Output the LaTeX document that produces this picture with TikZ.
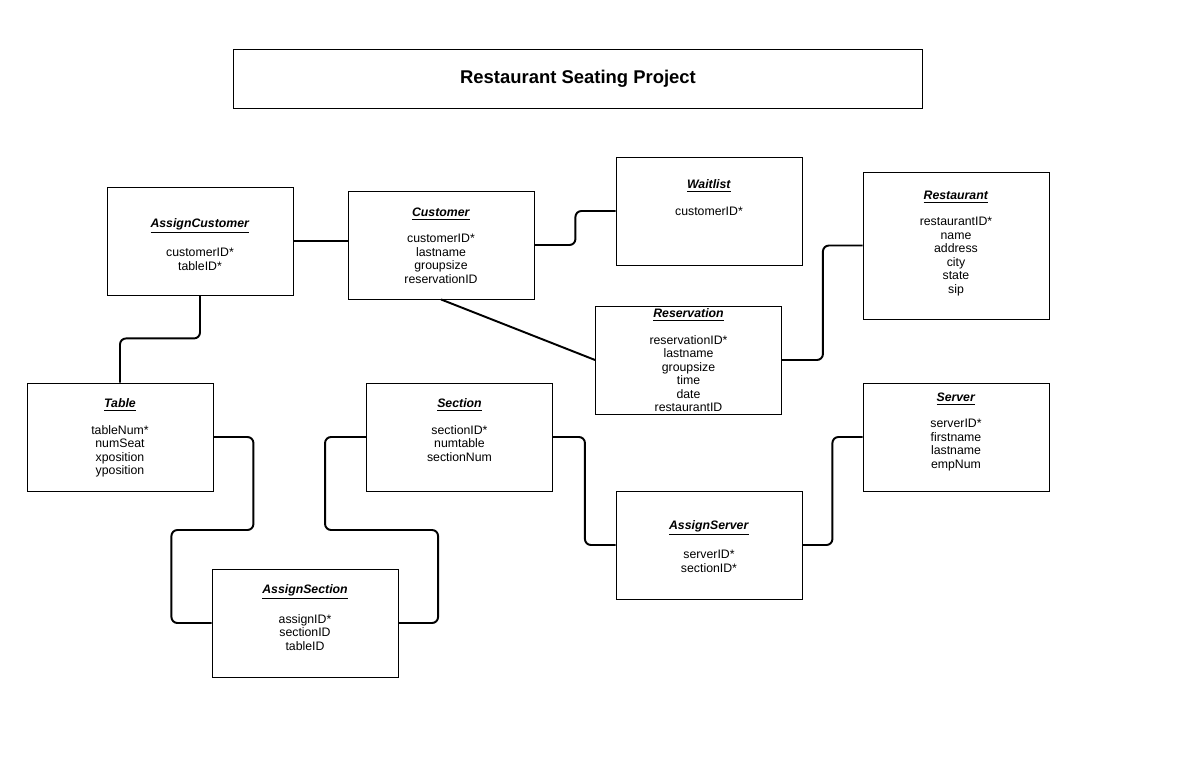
\documentclass[tikz,border=0pt]{standalone}
\usepackage{fontspec}
\setmainfont{Liberation Sans}
\usetikzlibrary{calc}
\newcommand{\enttitle}[1]{\underline{\textbf{\textit{#1}}}}
\begin{document}
\begin{tikzpicture}[x=0.02cm, y=-0.02cm,
    entity/.style={draw, line width=0.5pt, minimum width=3.72cm, inner sep=0pt},
    fields/.style={align=center, inner sep=0pt, font=\fontsize{7}{7.7}\selectfont},
    link/.style={line width=1.1pt, rounded corners=0.12cm}]
        \useasboundingbox (0,0) rectangle (1178,781);

        % Title
        \node[draw, line width=0.5pt, minimum width=13.8cm, minimum height=1.18cm,
            font=\fontsize{10.5}{12}\selectfont\bfseries] (title) at (578,78.5) {Restaurant Seating Project};

        % Entities
        \foreach \nm/\cx/\cy/\hgt/\off/\ttl/\flds in {
            assigncust/200/241/108/32/AssignCustomer/{customerID*\\tableID*},
            customer/441/245/108/17/Customer/{customerID*\\lastname\\groupsize\\reservationID},
            waitlist/709/211/108/23/Waitlist/{customerID*},
            restaurant/956/245.5/147/19/Restaurant/{restaurantID*\\name\\address\\city\\state\\sip},
            reservation/688.5/360/108/3/Reservation/{reservationID*\\lastname\\groupsize\\time\\date\\restaurantID},
            table/120/437/108/16/Table/{tableNum*\\numSeat\\xposition\\yposition},
            section/459.5/437/108/16/Section/{sectionID*\\numtable\\sectionNum},
            server/956/437/108/10/Server/{serverID*\\firstname\\lastname\\empNum},
            assignserver/709/545/108/30/AssignServer/{serverID*\\sectionID*},
            assignsection/305/623/108/16/AssignSection/{assignID*\\sectionID\\tableID}} {
            \node[entity, minimum height=\hgt*0.02cm] (\nm) at (\cx,\cy) {};
            \node[fields, anchor=north] (\nm-txt) at ($(\nm.north)+(0,\off)$) {\enttitle{\ttl}\\[7.3pt]\flds};
        }

        % Connectors
        \draw[link] (assigncust.east) -- (assigncust.east -| customer.west);
        \draw[link] (customer.east) -- ++(41,0) |- (waitlist.west);
        \draw[link] (customer.south) -- (reservation.west);
        \draw[link] (reservation.east) -- ++(41,0) |- (restaurant.west);
        \draw[link] (assigncust.south) -- ++(0,43) -| (table.north);
        \draw[link] (table.east) -| ++(40,93) -| ++(-82,93) -- (assignsection.west);
        \draw[link] (section.west) -| ++(-41,93) -| ++(113,93) -- (assignsection.east);
        \draw[link] (section.east) -- ++(32,0) |- (assignserver.west);
        \draw[link] (assignserver.east) -- ++(30,0) |- (server.west);

    \end{tikzpicture}
\end{document}
